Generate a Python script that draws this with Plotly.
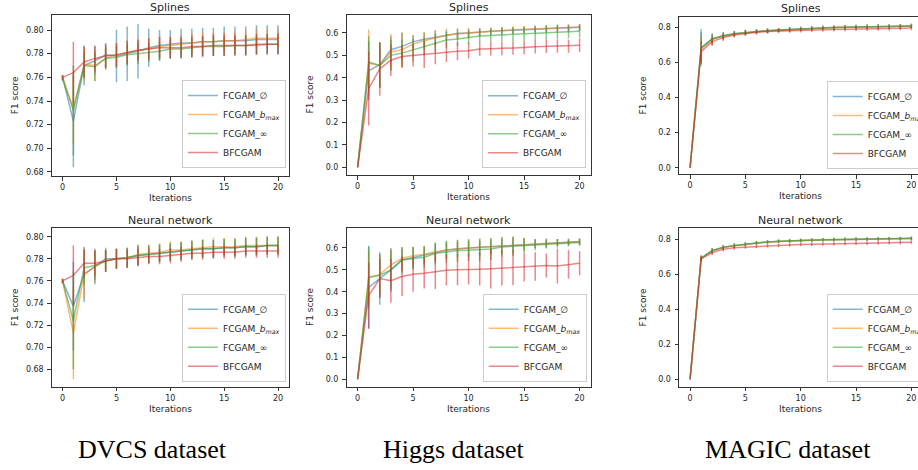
import plotly.graph_objects as go

W, H = 918, 470

iterations = list(range(21))
x_tick_vals = [0, 5, 10, 15, 20]

series_names = ["FCGAM_<i>∅</i>", "FCGAM_<i>b</i><sub><i>max</i></sub>", "FCGAM_∞", "BFCGAM"]
panel_titles = ["Splines", "Splines", "Splines", "Neural network", "Neural network", "Neural network"]
dataset_captions = ["DVCS dataset", "Higgs dataset", "MAGIC dataset"]

# ---------------- DVCS / Splines ----------------
dvcs_spl_fc0 = [0.760, 0.723, 0.770, 0.774, 0.779, 0.778, 0.780, 0.782, 0.785, 0.787, 0.788, 0.789, 0.789, 0.790, 0.790, 0.791, 0.791, 0.791, 0.792, 0.792, 0.792]
dvcs_spl_fc0_err = [0.002, 0.039, 0.017, 0.012, 0.010, 0.022, 0.023, 0.023, 0.016, 0.013, 0.012, 0.012, 0.012, 0.012, 0.012, 0.012, 0.012, 0.012, 0.012, 0.012, 0.012]
dvcs_spl_fcb = [0.760, 0.734, 0.771, 0.770, 0.776, 0.779, 0.781, 0.783, 0.784, 0.786, 0.787, 0.788, 0.789, 0.790, 0.790, 0.791, 0.791, 0.792, 0.793, 0.793, 0.793]
dvcs_spl_fcb_err = [0.002, 0.030, 0.014, 0.013, 0.010, 0.010, 0.010, 0.009, 0.009, 0.009, 0.008, 0.008, 0.008, 0.008, 0.008, 0.008, 0.008, 0.008, 0.008, 0.008, 0.008]
dvcs_spl_fci = [0.759, 0.732, 0.770, 0.769, 0.776, 0.777, 0.779, 0.780, 0.781, 0.782, 0.784, 0.784, 0.785, 0.786, 0.786, 0.786, 0.787, 0.787, 0.787, 0.788, 0.788]
dvcs_spl_fci_err = [0.002, 0.038, 0.011, 0.012, 0.009, 0.009, 0.009, 0.009, 0.008, 0.008, 0.008, 0.008, 0.008, 0.008, 0.008, 0.008, 0.008, 0.008, 0.008, 0.008, 0.008]
dvcs_spl_bf = [0.760, 0.764, 0.773, 0.776, 0.778, 0.779, 0.781, 0.783, 0.784, 0.785, 0.785, 0.785, 0.786, 0.786, 0.787, 0.787, 0.787, 0.787, 0.788, 0.788, 0.788]
dvcs_spl_bf_err = [0.002, 0.026, 0.013, 0.011, 0.010, 0.010, 0.010, 0.009, 0.009, 0.009, 0.009, 0.009, 0.009, 0.009, 0.009, 0.009, 0.009, 0.009, 0.009, 0.009, 0.009]

# ---------------- Higgs / Splines ----------------
higgs_spl_fc0 = [0.0, 0.431, 0.458, 0.525, 0.540, 0.560, 0.572, 0.580, 0.590, 0.597, 0.600, 0.605, 0.608, 0.610, 0.612, 0.615, 0.617, 0.619, 0.621, 0.623, 0.625]
higgs_spl_fc0_err = [0.0, 0.130, 0.100, 0.060, 0.060, 0.030, 0.030, 0.030, 0.020, 0.020, 0.020, 0.015, 0.015, 0.015, 0.015, 0.015, 0.015, 0.015, 0.015, 0.015, 0.015]
higgs_spl_fcb = [0.0, 0.465, 0.455, 0.515, 0.525, 0.550, 0.565, 0.578, 0.590, 0.596, 0.600, 0.604, 0.608, 0.611, 0.614, 0.616, 0.618, 0.620, 0.622, 0.624, 0.626]
higgs_spl_fcb_err = [0.0, 0.150, 0.100, 0.080, 0.080, 0.040, 0.040, 0.035, 0.030, 0.025, 0.020, 0.020, 0.015, 0.015, 0.015, 0.015, 0.015, 0.015, 0.015, 0.015, 0.015]
higgs_spl_fci = [0.0, 0.470, 0.455, 0.500, 0.510, 0.525, 0.540, 0.555, 0.568, 0.573, 0.580, 0.586, 0.589, 0.591, 0.593, 0.595, 0.598, 0.600, 0.602, 0.604, 0.607]
higgs_spl_fci_err = [0.0, 0.115, 0.100, 0.070, 0.060, 0.050, 0.040, 0.040, 0.035, 0.030, 0.030, 0.030, 0.030, 0.030, 0.030, 0.030, 0.030, 0.030, 0.030, 0.028, 0.028]
higgs_spl_bf = [0.0, 0.352, 0.440, 0.478, 0.495, 0.500, 0.503, 0.510, 0.515, 0.518, 0.521, 0.528, 0.529, 0.530, 0.533, 0.535, 0.538, 0.540, 0.541, 0.541, 0.545]
higgs_spl_bf_err = [0.0, 0.165, 0.120, 0.070, 0.050, 0.050, 0.060, 0.050, 0.045, 0.040, 0.035, 0.030, 0.030, 0.030, 0.030, 0.030, 0.030, 0.030, 0.030, 0.030, 0.030]

# ---------------- MAGIC / Splines ----------------
magic_spl_fc0 = [0.0, 0.680, 0.732, 0.750, 0.762, 0.769, 0.774, 0.779, 0.783, 0.787, 0.789, 0.792, 0.795, 0.797, 0.799, 0.801, 0.802, 0.803, 0.804, 0.805, 0.806]
magic_spl_fc0_err = [0.0, 0.090, 0.030, 0.020, 0.015, 0.015, 0.013, 0.013, 0.012, 0.012, 0.012, 0.012, 0.012, 0.012, 0.012, 0.012, 0.012, 0.012, 0.012, 0.012, 0.012]
magic_spl_fcb = [0.0, 0.670, 0.728, 0.748, 0.760, 0.768, 0.773, 0.778, 0.782, 0.786, 0.789, 0.792, 0.795, 0.797, 0.799, 0.800, 0.802, 0.803, 0.804, 0.805, 0.806]
magic_spl_fcb_err = [0.0, 0.080, 0.030, 0.020, 0.015, 0.015, 0.013, 0.013, 0.012, 0.012, 0.012, 0.012, 0.012, 0.012, 0.012, 0.012, 0.012, 0.012, 0.012, 0.012, 0.012]
magic_spl_fci = [0.0, 0.683, 0.733, 0.750, 0.762, 0.769, 0.774, 0.779, 0.783, 0.787, 0.790, 0.792, 0.795, 0.797, 0.799, 0.801, 0.802, 0.803, 0.804, 0.805, 0.806]
magic_spl_fci_err = [0.0, 0.105, 0.030, 0.020, 0.015, 0.015, 0.013, 0.013, 0.012, 0.012, 0.012, 0.012, 0.012, 0.012, 0.012, 0.012, 0.012, 0.012, 0.012, 0.012, 0.012]
magic_spl_bf = [0.0, 0.660, 0.717, 0.740, 0.755, 0.764, 0.770, 0.774, 0.777, 0.779, 0.781, 0.783, 0.785, 0.786, 0.788, 0.789, 0.790, 0.791, 0.792, 0.793, 0.794]
magic_spl_bf_err = [0.0, 0.060, 0.025, 0.020, 0.015, 0.015, 0.013, 0.013, 0.012, 0.012, 0.012, 0.012, 0.012, 0.012, 0.012, 0.012, 0.012, 0.012, 0.012, 0.012, 0.012]

# ---------------- DVCS / Neural network ----------------
dvcs_nn_fc0 = [0.760, 0.737, 0.766, 0.773, 0.780, 0.780, 0.781, 0.783, 0.784, 0.785, 0.786, 0.787, 0.788, 0.789, 0.789, 0.790, 0.790, 0.791, 0.791, 0.792, 0.792]
dvcs_nn_fc0_err = [0.002, 0.040, 0.025, 0.016, 0.010, 0.009, 0.009, 0.009, 0.008, 0.008, 0.008, 0.008, 0.008, 0.008, 0.008, 0.008, 0.008, 0.008, 0.008, 0.008, 0.008]
dvcs_nn_fcb = [0.760, 0.713, 0.766, 0.773, 0.778, 0.780, 0.781, 0.784, 0.785, 0.786, 0.788, 0.788, 0.789, 0.790, 0.791, 0.791, 0.791, 0.792, 0.792, 0.792, 0.792]
dvcs_nn_fcb_err = [0.002, 0.042, 0.022, 0.014, 0.010, 0.009, 0.009, 0.009, 0.008, 0.008, 0.008, 0.008, 0.008, 0.008, 0.008, 0.008, 0.008, 0.008, 0.008, 0.008, 0.008]
dvcs_nn_fci = [0.760, 0.724, 0.772, 0.774, 0.778, 0.780, 0.781, 0.783, 0.784, 0.785, 0.786, 0.787, 0.788, 0.789, 0.789, 0.790, 0.790, 0.791, 0.791, 0.792, 0.792]
dvcs_nn_fci_err = [0.002, 0.044, 0.016, 0.013, 0.010, 0.009, 0.009, 0.009, 0.008, 0.008, 0.008, 0.008, 0.008, 0.008, 0.008, 0.008, 0.008, 0.008, 0.008, 0.008, 0.008]
dvcs_nn_bf = [0.760, 0.765, 0.776, 0.776, 0.778, 0.780, 0.780, 0.781, 0.782, 0.782, 0.783, 0.784, 0.785, 0.785, 0.786, 0.786, 0.786, 0.787, 0.787, 0.787, 0.787]
dvcs_nn_bf_err = [0.002, 0.027, 0.013, 0.012, 0.010, 0.009, 0.008, 0.008, 0.007, 0.007, 0.007, 0.007, 0.006, 0.006, 0.006, 0.006, 0.006, 0.006, 0.006, 0.006, 0.006]

# ---------------- Higgs / Neural network ----------------
higgs_nn_fc0 = [0.0, 0.420, 0.460, 0.500, 0.545, 0.556, 0.565, 0.578, 0.590, 0.597, 0.600, 0.602, 0.605, 0.610, 0.613, 0.617, 0.620, 0.623, 0.626, 0.628, 0.630]
higgs_nn_fc0_err = [0.0, 0.190, 0.120, 0.100, 0.050, 0.050, 0.040, 0.040, 0.035, 0.030, 0.030, 0.030, 0.030, 0.030, 0.030, 0.025, 0.020, 0.020, 0.015, 0.015, 0.015]
higgs_nn_fcb = [0.0, 0.467, 0.478, 0.523, 0.553, 0.565, 0.571, 0.583, 0.591, 0.597, 0.600, 0.603, 0.606, 0.610, 0.613, 0.616, 0.619, 0.621, 0.624, 0.626, 0.628]
higgs_nn_fcb_err = [0.0, 0.120, 0.090, 0.070, 0.050, 0.040, 0.040, 0.040, 0.040, 0.040, 0.040, 0.040, 0.040, 0.040, 0.040, 0.030, 0.020, 0.020, 0.015, 0.015, 0.015]
higgs_nn_fci = [0.0, 0.465, 0.475, 0.500, 0.545, 0.553, 0.558, 0.575, 0.583, 0.588, 0.590, 0.592, 0.595, 0.605, 0.608, 0.612, 0.615, 0.618, 0.621, 0.623, 0.625]
higgs_nn_fci_err = [0.0, 0.140, 0.100, 0.090, 0.060, 0.050, 0.050, 0.050, 0.050, 0.050, 0.050, 0.050, 0.050, 0.045, 0.045, 0.035, 0.025, 0.020, 0.020, 0.015, 0.015]
higgs_nn_bf = [0.0, 0.383, 0.460, 0.450, 0.470, 0.480, 0.485, 0.492, 0.498, 0.500, 0.503, 0.503, 0.505, 0.508, 0.510, 0.512, 0.515, 0.520, 0.518, 0.525, 0.530]
higgs_nn_bf_err = [0.0, 0.150, 0.090, 0.100, 0.090, 0.080, 0.070, 0.080, 0.070, 0.070, 0.070, 0.075, 0.090, 0.080, 0.080, 0.065, 0.065, 0.055, 0.080, 0.065, 0.055]

# ---------------- MAGIC / Neural network ----------------
magic_nn_fc0 = [0.0, 0.692, 0.735, 0.754, 0.764, 0.773, 0.779, 0.785, 0.789, 0.791, 0.793, 0.795, 0.797, 0.798, 0.799, 0.800, 0.801, 0.802, 0.803, 0.804, 0.805]
magic_nn_fc0_err = [0.0, 0.015, 0.015, 0.012, 0.012, 0.010, 0.010, 0.010, 0.010, 0.010, 0.010, 0.010, 0.010, 0.010, 0.010, 0.010, 0.010, 0.010, 0.010, 0.010, 0.010]
magic_nn_fcb = [0.0, 0.691, 0.734, 0.753, 0.764, 0.772, 0.779, 0.784, 0.788, 0.791, 0.793, 0.795, 0.797, 0.798, 0.799, 0.800, 0.801, 0.802, 0.803, 0.804, 0.805]
magic_nn_fcb_err = [0.0, 0.015, 0.015, 0.012, 0.012, 0.010, 0.010, 0.010, 0.010, 0.010, 0.010, 0.010, 0.010, 0.010, 0.010, 0.010, 0.010, 0.010, 0.010, 0.010, 0.010]
magic_nn_fci = [0.0, 0.693, 0.736, 0.755, 0.765, 0.773, 0.780, 0.785, 0.789, 0.792, 0.794, 0.796, 0.797, 0.799, 0.800, 0.801, 0.802, 0.803, 0.804, 0.805, 0.806]
magic_nn_fci_err = [0.0, 0.015, 0.015, 0.012, 0.012, 0.010, 0.010, 0.010, 0.010, 0.010, 0.010, 0.010, 0.010, 0.010, 0.010, 0.010, 0.010, 0.010, 0.010, 0.010, 0.010]
magic_nn_bf = [0.0, 0.688, 0.724, 0.743, 0.752, 0.756, 0.760, 0.764, 0.766, 0.768, 0.770, 0.772, 0.773, 0.774, 0.776, 0.777, 0.778, 0.779, 0.780, 0.781, 0.783]
magic_nn_bf_err = [0.0, 0.015, 0.014, 0.012, 0.012, 0.010, 0.010, 0.010, 0.010, 0.010, 0.010, 0.010, 0.010, 0.010, 0.010, 0.010, 0.010, 0.010, 0.010, 0.010, 0.010]

panels = [
    [(dvcs_spl_fc0, dvcs_spl_fc0_err), (dvcs_spl_fcb, dvcs_spl_fcb_err), (dvcs_spl_fci, dvcs_spl_fci_err), (dvcs_spl_bf, dvcs_spl_bf_err)],
    [(higgs_spl_fc0, higgs_spl_fc0_err), (higgs_spl_fcb, higgs_spl_fcb_err), (higgs_spl_fci, higgs_spl_fci_err), (higgs_spl_bf, higgs_spl_bf_err)],
    [(magic_spl_fc0, magic_spl_fc0_err), (magic_spl_fcb, magic_spl_fcb_err), (magic_spl_fci, magic_spl_fci_err), (magic_spl_bf, magic_spl_bf_err)],
    [(dvcs_nn_fc0, dvcs_nn_fc0_err), (dvcs_nn_fcb, dvcs_nn_fcb_err), (dvcs_nn_fci, dvcs_nn_fci_err), (dvcs_nn_bf, dvcs_nn_bf_err)],
    [(higgs_nn_fc0, higgs_nn_fc0_err), (higgs_nn_fcb, higgs_nn_fcb_err), (higgs_nn_fci, higgs_nn_fci_err), (higgs_nn_bf, higgs_nn_bf_err)],
    [(magic_nn_fc0, magic_nn_fc0_err), (magic_nn_fcb, magic_nn_fcb_err), (magic_nn_fci, magic_nn_fci_err), (magic_nn_bf, magic_nn_bf_err)],
]

# ---------------- layout geometry (pixels) ----------------
COLORS = ["31,119,180", "255,127,14", "44,160,44", "214,39,40"]
ALPHA = 0.55
FONT = "DejaVu Sans, Verdana, sans-serif"

px_x = [(51.8, 288.8), (346.5, 590.7), (679.0, 918.0), (51.8, 288.8), (346.5, 590.7), (679.0, 918.0)]
px_y = [(15.0, 176.0), (15.0, 175.0), (16.7, 174.3), (228.3, 386.7), (228.3, 386.7), (228.3, 386.7)]
x_ranges = [[-1, 21], [-1, 21], [-1, 20.6], [-1, 21], [-1, 21], [-1, 20.6]]
y_ranges = [[0.6766, 0.8127], [-0.034, 0.680], [-0.0375, 0.8586],
            [0.6643, 0.8076], [-0.034, 0.690], [-0.042, 0.863]]
y_ticks = [[0.68, 0.70, 0.72, 0.74, 0.76, 0.78, 0.80], [0.0, 0.1, 0.2, 0.3, 0.4, 0.5, 0.6], [0.0, 0.2, 0.4, 0.6, 0.8]]
y_fmt = [".2f", ".1f", ".1f"]
axis_center_x = [170.3, 468.6, 800.7, 170.3, 468.6, 800.7]
legend_anchor = [(286.0, 168.0, "right"), (586.0, 168.3, "right"), (826.7, 169.0, "left"),
                 (286.0, 381.7, "right"), (586.7, 381.7, "right"), (826.7, 381.7, "left")]


def fx(p):
    return p / W


def fy(p):
    return 1 - p / H


fig = go.Figure()

for pi, panel in enumerate(panels):
    ax = "" if pi == 0 else str(pi + 1)
    leg = "legend" if pi == 0 else f"legend{pi + 1}"
    for si, (vals, errs) in enumerate(panel):
        col = f"rgba({COLORS[si]},{ALPHA})"
        fig.add_trace(go.Scatter(
            x=iterations, y=vals, mode="lines", name=series_names[si],
            line=dict(color=col, width=1.5),
            error_y=dict(type="data", array=errs, visible=True, color=col, thickness=1.5, width=0),
            xaxis="x" + ax, yaxis="y" + ax, legend=leg, showlegend=True,
        ))

layout = dict(
    width=W, height=H, margin=dict(l=0, r=0, t=0, b=0, autoexpand=False),
    paper_bgcolor="white", plot_bgcolor="white",
    font=dict(family=FONT, color="#262626", size=9),
    showlegend=True,
)

annotations = []
for pi in range(6):
    ax = "" if pi == 0 else str(pi + 1)
    col = pi % 3
    x0, x1 = px_x[pi]
    ytop, ybot = px_y[pi]
    right_cut = col == 2
    layout["xaxis" + ax] = dict(
        domain=[fx(x0), fx(x1)], range=x_ranges[pi], anchor="y" + ax,
        tickmode="array", tickvals=x_tick_vals, ticks="outside", ticklen=3.5, tickwidth=1,
        tickcolor="#333", showline=True, linecolor="#333", linewidth=1, mirror=True,
        showgrid=False, zeroline=False, tickfont=dict(size=8, family=FONT, color="#262626"),
    )
    layout["yaxis" + ax] = dict(
        domain=[fy(ybot), fy(ytop)], range=y_ranges[pi], anchor="x" + ax,
        tickmode="array", tickvals=y_ticks[col], tickformat=y_fmt[col],
        ticks="outside", ticklen=3.5, tickwidth=1, tickcolor="#333",
        showline=True, linecolor="#333", linewidth=1, mirror=(not right_cut),
        showgrid=False, zeroline=False, tickfont=dict(size=8, family=FONT, color="#262626"),
        ticklabelstandoff=2,
    )
    lx, ly, xa = legend_anchor[pi]
    layout["legend" if pi == 0 else f"legend{pi + 1}"] = dict(
        x=fx(lx), y=fy(ly), xanchor=xa, yanchor="bottom",
        bgcolor="rgba(255,255,255,0.85)", bordercolor="#cccccc", borderwidth=1,
        font=dict(size=9, family=FONT, color="#262626"), tracegroupgap=0,
        itemwidth=30,
    )
    annotations.append(dict(
        text=panel_titles[pi], x=fx(axis_center_x[pi]), y=fy(ytop - 7.8),
        xref="paper", yref="paper", xanchor="center", yanchor="middle", showarrow=False,
        font=dict(size=11, family=FONT, color="#262626"),
    ))
    annotations.append(dict(
        text="Iterations", x=fx(axis_center_x[pi]), y=fy(ybot + 22),
        xref="paper", yref="paper", xanchor="center", yanchor="middle", showarrow=False,
        font=dict(size=9, family=FONT, color="#262626"),
    ))
    annotations.append(dict(
        text="F1 score", x=fx(x0 - 37), y=fy((ytop + ybot) / 2),
        xref="paper", yref="paper", xanchor="center", yanchor="middle", showarrow=False,
        textangle=-90, font=dict(size=9, family=FONT, color="#262626"),
    ))

caption_x = [152, 454, 788]
for ci, cap in enumerate(dataset_captions):
    annotations.append(dict(
        text=cap, x=fx(caption_x[ci]), y=fy(449), xref="paper", yref="paper",
        xanchor="center", yanchor="middle", showarrow=False,
        font=dict(size=26, family="Liberation Serif, Times New Roman, serif", color="black"),
    ))

layout["annotations"] = annotations
fig.update_layout(**layout)
fig.write_html("out.html")
